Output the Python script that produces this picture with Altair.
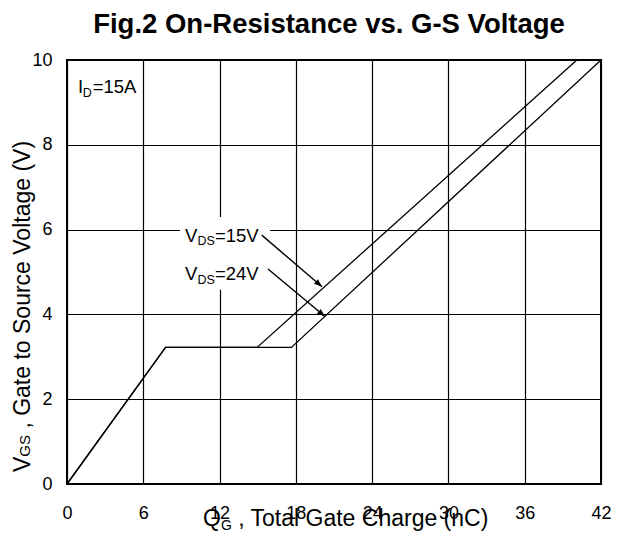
import altair as alt
import pandas as pd

# ---- data ----
qg_15v = [0, 7.75, 14.95, 40.1]
vgs_15v = [0, 3.22, 3.22, 10.0]
qg_24v = [0, 7.75, 17.65, 42.0]
vgs_24v = [0, 3.22, 3.22, 10.0]

x_ticks = [0, 6, 12, 18, 24, 30, 36, 42]
y_ticks = [0, 2, 4, 6, 8, 10]

# annotation arrows (data coordinates): start -> tip
arrow_x = [15.32, 15.81]
arrow_y = [5.87, 5.07]
arrow_x2 = [20.06, 20.29]
arrow_y2 = [4.65, 3.95]
arrow_angle = [41, 40]

# labels (data coordinates of the text start / baseline)
vds_labels = ["=15V", "=24V"]
vds_x = [9.28, 9.28]
vds_y = [5.71, 4.81]
id_label = "=15A"
id_x = [0.87]
id_y = [9.22]

# white box behind the V_DS labels
box_x, box_x2, box_y, box_y2 = [8.89], [15.97], [4.58], [6.30]

FONT = "Liberation Sans"
xs = alt.Scale(domain=[0, 42], nice=False, zero=False)
ys = alt.Scale(domain=[0, 10], nice=False, zero=False)
x_axis = alt.Axis(
    values=x_ticks, grid=True, ticks=False, domain=False, title=None,
    labelFontSize=18, labelFont=FONT, labelColor="black", labelPadding=20,
    labelFlush=False, gridColor="black", gridWidth=1.2, gridOpacity=1)
y_axis = alt.Axis(
    values=y_ticks, grid=True, ticks=False, domain=False, title=None,
    labelFontSize=18, labelFont=FONT, labelColor="black", labelPadding=15,
    labelFlush=False, gridColor="black", gridWidth=1.2, gridOpacity=1)


def X(field):
    return alt.X(field, scale=xs, axis=x_axis)


def Y(field):
    return alt.Y(field, scale=ys, axis=y_axis)


rows = []
for s, qs, vs in (("15V", qg_15v, vgs_15v), ("24V", qg_24v, vgs_24v)):
    for i, (q, v) in enumerate(zip(qs, vs)):
        rows.append({"series": s, "i": i, "qg": q, "vgs": v})
curves_df = pd.DataFrame(rows)

curves = alt.Chart(curves_df).mark_line(color="black", strokeWidth=1.3).encode(
    x=X("qg:Q"), y=Y("vgs:Q"), detail="series:N", order="i:Q")

box = alt.Chart(pd.DataFrame({"x": box_x, "x2": box_x2, "y": box_y, "y2": box_y2})).mark_rect(
    color="white", opacity=1).encode(x=X("x:Q"), x2="x2:Q", y=Y("y:Q"), y2="y2:Q")

arrows_df = pd.DataFrame({"x": arrow_x, "y": arrow_y, "x2": arrow_x2, "y2": arrow_y2,
                          "angle": arrow_angle})
arrow_lines = alt.Chart(arrows_df).mark_rule(color="black", strokeWidth=1.4).encode(
    x=X("x:Q"), x2="x2:Q", y=Y("y:Q"), y2="y2:Q")
arrow_heads = alt.Chart(arrows_df).mark_point(
    shape="M0,0L-2,-0.75L-2,0.75Z", filled=True, color="black", opacity=1, size=64,
    strokeWidth=0).encode(
    x=X("x2:Q"), y=Y("y2:Q"), angle=alt.Angle("angle:Q", scale=None))


def data_text(text, xv, yv, size, dx=0, dy=0):
    df = pd.DataFrame({"x": xv, "y": yv,
                       "t": text if isinstance(text, list) else [text] * len(xv)})
    return alt.Chart(df).mark_text(
        align="left", baseline="alphabetic", font=FONT, fontSize=size, color="black",
        dx=dx, dy=dy).encode(x=X("x:Q"), y=Y("y:Q"), text="t:N")


def px_text(text, px, py, size, bold=False, angle=0, align="left"):
    kw = dict(align=align, baseline="alphabetic", font=FONT, fontSize=size, color="black",
              fontWeight="bold" if bold else "normal")
    if angle:
        kw["angle"] = angle
    return alt.Chart(pd.DataFrame({"a": [0]})).mark_text(**kw).encode(
        x=alt.value(px), y=alt.value(py), text=alt.value(text))


MAIN, SUB = 18.5, 12.5
labels = [
    data_text("V", vds_x, vds_y, MAIN),
    data_text("DS", vds_x, vds_y, SUB, dx=12.4, dy=3.5),
    data_text(vds_labels, vds_x, vds_y, MAIN, dx=30.0),
    data_text("I", id_x, id_y, MAIN),
    data_text("D", id_x, id_y, SUB, dx=4.6, dy=3.5),
    data_text(id_label, id_x, id_y, MAIN, dx=14.6),
]

XT = 23.0
YT = 23.0
YX = -37
titles = [
    px_text("Fig.2 On-Resistance vs. G-S Voltage", 262, -27, 27.5, bold=True, align="center"),
    # x-axis title
    px_text("Q", 136, 466, XT),
    px_text("G", 136 + 17.9, 470, 14),
    px_text(", Total Gate Charge (nC)", 136 + 17.9 + 10.9 + 6.4, 466, XT),
    # y-axis title (rotated)
    px_text("V", YX, 412, YT, angle=270),
    px_text("GS", YX, 412 - 15.3, 15, angle=270),
    px_text(", Gate to Source Voltage (V)", YX, 412 - 15.3 - 21.7 - 6.4, YT, angle=270),
]

chart = alt.layer(curves, box, arrow_lines, arrow_heads, *labels, *titles).properties(
    width=534, height=424, autosize="none",
    padding={"left": 59, "top": 52, "right": 17, "bottom": 50},
).configure_view(stroke="black", strokeWidth=2)

chart.save("out.html", embed_options={"renderer": "svg", "actions": False})
